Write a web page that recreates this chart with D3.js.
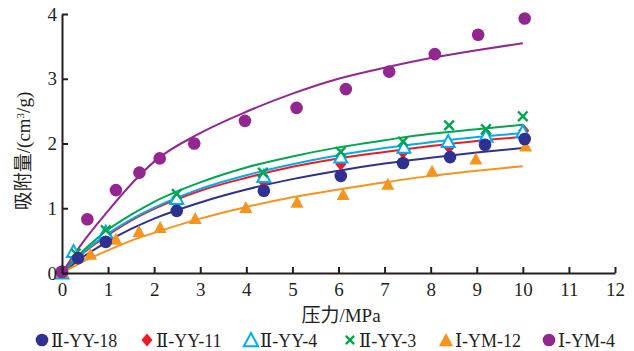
<!DOCTYPE html>
<html>
<head>
<meta charset="utf-8">
<script src="https://cdn.jsdelivr.net/npm/d3@7"></script>
<style>
  html, body { margin: 0; padding: 0; background: #fff; }
  svg { display: block; }
  text { font-family: "Liberation Serif", "DejaVu Serif", "Times New Roman", serif, "Noto Sans CJK SC"; fill: #231f20; }
</style>
</head>
<body>
<svg id="chart" width="634" height="351"></svg>
<script>
// ---- data ----
const seriesNames = ["Ⅱ-YY-18", "Ⅱ-YY-11", "Ⅱ-YY-4", "Ⅱ-YY-3", "Ⅰ-YM-12", "Ⅰ-YM-4"];
const xTicks = [0,1,2,3,4,5,6,7,8,9,10,11,12];
const yTicks = [0,1,2,3,4];

// measured points [pressure MPa, adsorption cm3/g]
const pts_YY18 = [[0,0.02],[0.35,0.23],[0.95,0.48],[2.49,0.96],[4.38,1.27],[6.05,1.5],[7.4,1.7],[8.42,1.79],[9.18,1.98],[10.04,2.07]];
const pts_YY11 = [[0,0.01],[0.3,0.26],[0.95,0.6],[2.49,1.08],[4.38,1.4],[6.05,1.68],[7.4,1.86],[8.4,1.94],[9.2,2.15],[10.02,2.2]];
const pts_YY4  = [[0,-0.01],[0.25,0.32],[0.95,0.62],[2.49,1.14],[4.38,1.48],[6.05,1.78],[7.42,1.93],[8.38,2.02],[9.2,2.1],[10.0,2.17]];
const pts_YY3  = [[0,0.0],[0.3,0.3],[0.95,0.66],[2.49,1.22],[4.36,1.55],[6.05,1.87],[7.4,2.03],[8.4,2.28],[9.2,2.22],[10.0,2.42]];
const pts_YM12 = [[0,0],[0.62,0.28],[1.17,0.51],[1.67,0.63],[2.13,0.69],[2.89,0.83],[3.99,1.0],[5.1,1.08],[6.1,1.2],[7.07,1.36],[8.03,1.56],[8.98,1.75],[10.06,1.95]];
const pts_YM4  = [[0,0.02],[0.55,0.83],[1.17,1.28],[1.68,1.55],[2.12,1.77],[2.87,2.0],[3.97,2.35],[5.09,2.55],[6.16,2.84],[7.1,3.11],[8.09,3.38],[9.03,3.68],[10.04,3.93]];

// fitted curves, values
const fitX      = [0, 0.25, 0.5, 1, 1.5, 2, 3, 4, 5, 6, 7, 8, 9, 10];
const fit_YY18  = [0, 0.14, 0.27, 0.49, 0.68, 0.84, 1.09, 1.29, 1.45, 1.58, 1.69, 1.78, 1.86, 1.93];
const fit_YY11  = [0, 0.17, 0.33, 0.59, 0.81, 0.99, 1.27, 1.47, 1.64, 1.77, 1.87, 1.96, 2.04, 2.10];
const fit_YY4   = [0, 0.18, 0.34, 0.61, 0.83, 1.01, 1.30, 1.51, 1.68, 1.82, 1.93, 2.02, 2.10, 2.16];
const fit_YY3   = [0, 0.20, 0.37, 0.67, 0.90, 1.10, 1.40, 1.63, 1.80, 1.94, 2.05, 2.15, 2.22, 2.29];
const fit_YM12  = [0, 0.10, 0.19, 0.35, 0.50, 0.62, 0.84, 1.02, 1.17, 1.29, 1.40, 1.50, 1.58, 1.65];
const fit_YM4   = [0, 0.27, 0.52, 0.96, 1.37, 1.72, 2.16, 2.49, 2.77, 3.00, 3.17, 3.32, 3.44, 3.55];

const colors = ["#2e3192", "#ed1c24", "#00aeef", "#00a651", "#f7941d", "#92278f"];
const markers = ["circle", "diamond", "triOpen", "cross", "triFill", "circle"];

const series = seriesNames.map((name, i) => ({
  name,
  color: colors[i],
  marker: markers[i],
  pts: [pts_YY18, pts_YY11, pts_YY4, pts_YY3, pts_YM12, pts_YM4][i],
  fit: [fit_YY18, fit_YY11, fit_YY4, fit_YY3, fit_YM12, fit_YM4][i]
}));

const SERIF = '"Liberation Serif", "DejaVu Serif", "Times New Roman", serif, "Noto Sans CJK SC"';

// ---- layout ----
const svg = d3.select("#chart");
const x = d3.scaleLinear().domain([0, 12]).range([62, 615]);
const y = d3.scaleLinear().domain([0, 4]).range([273, 14]);

// fitted lines
const line = d3.line().x(d => x(d[0])).y(d => y(d[1])).curve(d3.curveMonotoneX);
svg.append("g").selectAll("path")
  .data(series)
  .join("path")
  .attr("d", s => line(fitX.map((v, k) => [v, s.fit[k]])))
  .attr("fill", "none")
  .attr("stroke", s => s.color)
  .attr("stroke-width", 2);

// marker drawing
function drawMarker(g, type, color, cx, cy, scale) {
  const k = scale || 1;
  if (type === "circle") {
    g.append("circle").attr("cx", cx).attr("cy", cy).attr("r", 6.3 * k).attr("fill", color);
  } else if (type === "diamond") {
    const r = 6.5 * k;
    g.append("path").attr("d", `M${cx},${cy - r}L${cx + r * 0.85},${cy}L${cx},${cy + r}L${cx - r * 0.85},${cy}Z`).attr("fill", color);
  } else if (type === "triOpen" || type === "triFill") {
    const h = 12 * k, w = 13 * k;
    const p = `M${cx},${cy - h * 0.6}L${cx + w / 2},${cy + h * 0.4}L${cx - w / 2},${cy + h * 0.4}Z`;
    if (type === "triOpen") {
      g.append("path").attr("d", p).attr("fill", "#fff").attr("stroke", color).attr("stroke-width", 2);
    } else {
      g.append("path").attr("d", p).attr("fill", color);
    }
  } else if (type === "cross") {
    const r = 4.8 * k;
    g.append("path").attr("d", `M${cx - r},${cy - r}L${cx + r},${cy + r}M${cx - r},${cy + r}L${cx + r},${cy - r}`)
      .attr("stroke", color).attr("stroke-width", 2.4).attr("fill", "none");
  }
}

// draw order: red, cyan, green, orange, blue, purple
const order = [1, 2, 3, 4, 0, 5];
const gPts = svg.append("g");
order.forEach(i => {
  const s = series[i];
  const g = gPts.append("g");
  s.pts.forEach(d => drawMarker(g, s.marker, s.color, x(d[0]), y(d[1])));
});

// axes
const xAxis = d3.axisBottom(x).tickValues(xTicks).tickFormat(d3.format("d")).tickSizeInner(-6).tickSizeOuter(0).tickPadding(10);
const yAxis = d3.axisLeft(y).tickValues(yTicks).tickFormat(d3.format("d")).tickSizeInner(-6).tickSizeOuter(0).tickPadding(5);

const gx = svg.append("g").attr("transform", `translate(0,${y(0)})`).call(xAxis);
const gy = svg.append("g").attr("transform", `translate(${x(0)},0)`).call(yAxis);
[gx, gy].forEach(g => {
  g.attr("font-family", null);
  g.select(".domain").attr("stroke", "#231f20").attr("stroke-width", 2);
  g.selectAll(".tick line").attr("stroke", "#231f20").attr("stroke-width", 2);
  g.selectAll(".tick text").attr("font-size", 19).attr("fill", "#231f20")
    .style("font-family", SERIF);
});

// axis titles
svg.append("text")
  .attr("x", 341).attr("y", 322)
  .attr("text-anchor", "middle")
  .attr("font-size", 19)
  .style("font-family", SERIF)
  .text("压力/MPa");

svg.append("text")
  .attr("transform", "translate(23,151) rotate(-90)")
  .attr("text-anchor", "middle")
  .attr("dy", "0.35em")
  .attr("font-size", 19)
  .style("font-family", SERIF)
  .html('吸附量/(cm<tspan baseline-shift="super" font-size="11">3</tspan>/g)');

// legend
const legendX = [42, 147, 251, 350, 446, 549];
const legendY = 340;
const gl = svg.append("g");
series.forEach((s, i) => {
  const cx = legendX[i];
  const g = gl.append("g");
  if (s.marker === "cross") drawMarker(g, s.marker, s.color, cx, legendY, 0.85);
  else if (s.marker === "triOpen" || s.marker === "triFill") drawMarker(g, s.marker, s.color, cx, legendY + 1, 1.1);
  else drawMarker(g, s.marker, s.color, cx, legendY, 1.0);
  g.append("text")
    .attr("x", cx + 9).attr("y", legendY + 7)
    .attr("font-size", 18)
    .style("font-family", SERIF)
    .text(s.name);
});
</script>
</body>
</html>
